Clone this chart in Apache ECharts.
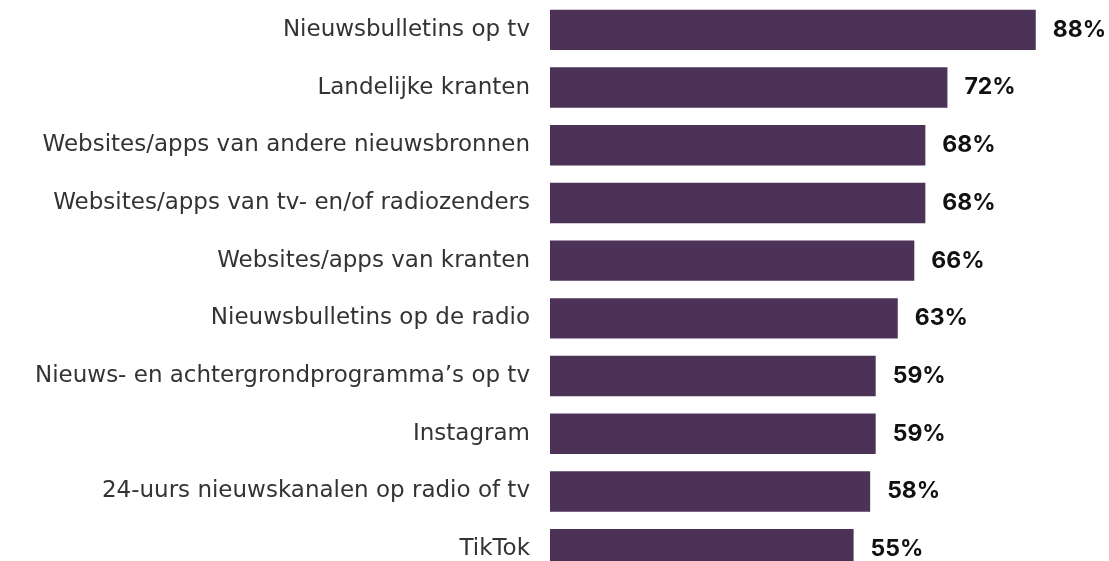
<!DOCTYPE html>
<html><head><meta charset="utf-8">
<script src="https://cdn.jsdelivr.net/npm/echarts@6/dist/echarts.min.js"></script>
<style>html,body{margin:0;padding:0;background:#fff}#c{width:1109px;height:561px}</style>
</head><body><div id="c"></div>
<script>
const categories = [
  "Nieuwsbulletins op tv",
  "Landelijke kranten",
  "Websites/apps van andere nieuwsbronnen",
  "Websites/apps van tv- en/of radiozenders",
  "Websites/apps van kranten",
  "Nieuwsbulletins op de radio",
  "Nieuws- en achtergrondprogramma\u2019s op tv",
  "Instagram",
  "24-uurs nieuwskanalen op radio of tv",
  "TikTok"
];
const values = [88, 72, 68, 68, 66, 63, 59, 59, 58, 55];

const chart = echarts.init(document.getElementById('c'), null, {renderer: 'canvas'});
chart.setOption({
  animation: false,
  grid: {left: 550, right: 7, top: 1, height: 577, containLabel: false, outerBoundsMode: 'none'},
  xAxis: {type: 'value', min: 0, max: 100, show: false},
  yAxis: {
    type: 'category', data: categories, inverse: true,
    axisLine: {show: false}, axisTick: {show: false},
    axisLabel: {margin: 20, color: '#333', fontSize: 23, fontFamily: 'DejaVu Sans'}
  },
  series: [{
    type: 'bar', data: values, barCategoryGap: '30%',
    itemStyle: {color: '#4b3256'},
    label: {show: true, position: 'right', distance: 17, formatter: '{c}%',
      color: '#111', fontSize: 23, fontWeight: 'bold', fontFamily: 'Inter'}
  }]
});
</script></body></html>
